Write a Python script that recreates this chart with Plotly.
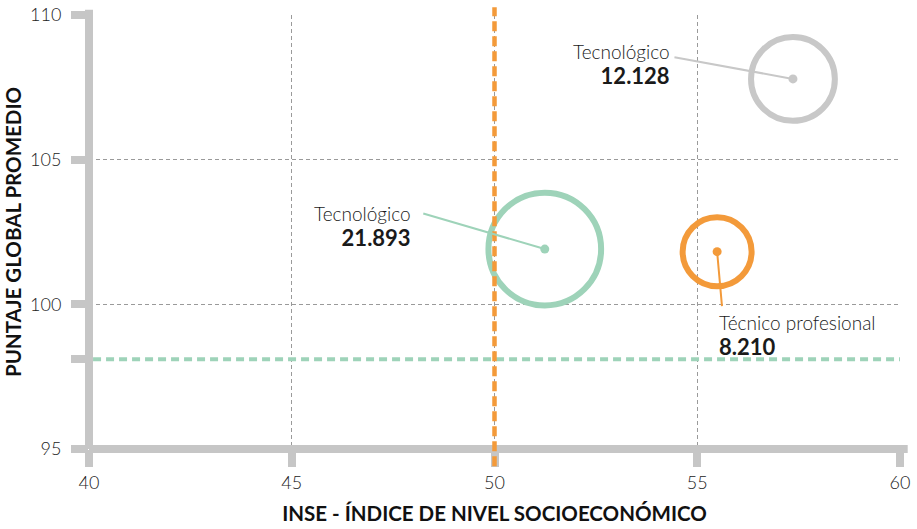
import plotly.graph_objects as go

# ---- data ----
categories = ["Tecnológico", "Tecnológico", "Técnico profesional"]
count_labels = ["12.128", "21.893", "8.210"]
counts = [12128, 21893, 8210]
inse = [57.36, 51.24, 55.49]
puntaje = [107.79, 101.91, 101.82]
colors = ["#c8c8c8", "#9ed3b9", "#f39a3a"]

x_ticks = [40, 45, 50, 55, 60]
y_ticks = [95, 100, 105, 110]
ref_inse = 50
ref_puntaje = 98.1

AXIS = "#c6c6c6"
FONT = "Lato"

fig = go.Figure()

# rings
fig.add_trace(go.Scatter(
    x=inse, y=puntaje, mode="markers",
    marker=dict(size=counts, sizemode="area", sizeref=3.45, opacity=1,
                color="rgba(0,0,0,0)",
                line=dict(color=colors, width=6)),
    hoverinfo="skip", showlegend=False, cliponaxis=False))
# centre dots
fig.add_trace(go.Scatter(
    x=inse, y=puntaje, mode="markers",
    marker=dict(size=9, color=colors, opacity=1),
    hoverinfo="skip", showlegend=False, cliponaxis=False))

# axis lines (frame)
fig.add_shape(type="line", xref="x domain", yref="y domain",
              x0=0, x1=1.0095, y0=0, y1=0, line=dict(color=AXIS, width=8))
fig.add_shape(type="line", xref="x domain", yref="y domain",
              x0=0, x1=0, y0=0, y1=1.012, line=dict(color=AXIS, width=8))

# reference lines
fig.add_shape(type="line", xref="x domain", yref="y",
              x0=0.005, x1=1, y0=ref_puntaje, y1=ref_puntaje,
              line=dict(color="#9ed3b9", width=4, dash="8px,5px"))
fig.add_shape(type="line", xref="x", yref="y domain",
              x0=ref_inse, x1=ref_inse, y0=-0.04, y1=1.018,
              line=dict(color="#f39a3a", width=4.5, dash="10px,5px"))

# leader lines and labels
arrow_offsets = [(-120, -22), (-123, -36), (5, 56)]
text_shifts = [(-121, 14, "right"), (-132, 23, "right"), (0, -84, "left")]
for i in range(len(counts)):
    ax_, ay_ = arrow_offsets[i]
    fig.add_annotation(x=inse[i], y=puntaje[i], xref="x", yref="y",
                       text="", showarrow=True, arrowhead=0, arrowwidth=2,
                       arrowcolor=colors[i], ax=ax_, ay=ay_, standoff=0,
                       startstandoff=0)
    xs, ys, anchor = text_shifts[i]
    fig.add_annotation(x=inse[i], y=puntaje[i], xref="x", yref="y",
                       text=(f"<span style='font-weight:300'>{categories[i]}</span><br>"
                             f"<b style='font-size:22px'>{count_labels[i]}</b>"),
                       showarrow=False, xanchor=anchor, yanchor="middle",
                       align=anchor, xshift=xs, yshift=ys,
                       font=dict(family=FONT, size=19, color="#1a1a1a"))

fig.update_layout(
    width=917, height=529,
    margin=dict(l=89.3, r=16.5, t=15.3, b=80),
    paper_bgcolor="white", plot_bgcolor="white",
    font=dict(family=FONT, color="#222"),
    hovermode=False,
    xaxis=dict(range=[40, 60], tickvals=x_ticks, ticktext=[str(v) for v in x_ticks],
               showline=False, zeroline=False, automargin=False,
               ticklabeloverflow="allow",
               showgrid=True, gridcolor="#9a9a9a", gridwidth=1, griddash="4px,3px",
               ticks="outside", ticklen=17, tickwidth=8, tickcolor=AXIS,
               tickfont=dict(family=FONT, size=18, color="#222", weight=300),
               title=dict(text="<b>INSE - ÍNDICE DE NIVEL SOCIOECONÓMICO</b>",
                          font=dict(family=FONT, size=20.5, color="#111"), standoff=15)),
    yaxis=dict(range=[95, 110], tickvals=y_ticks, ticktext=[str(v) for v in y_ticks],
               showline=False, zeroline=False, automargin=False,
               ticklabeloverflow="allow", ticklabelstandoff=6,
               showgrid=True, gridcolor="#9a9a9a", gridwidth=1, griddash="4px,3px",
               ticks="outside", ticklen=17, tickwidth=8, tickcolor=AXIS,
               minor=dict(tickvals=[ref_puntaje], ticks="outside", ticklen=17,
                          tickwidth=8, tickcolor=AXIS, showgrid=False),
               tickfont=dict(family=FONT, size=18, color="#222", weight=300),
               title=dict(text="<b>PUNTAJE GLOBAL PROMEDIO</b>",
                          font=dict(family=FONT, size=20.5, color="#111"), standoff=2)),
)

# remove the default 8px page margin so the figure fills the window exactly
fig.write_html("out.html",
               config={"displayModeBar": False, "staticPlot": True},
               post_script="document.body.style.margin='0px';")
